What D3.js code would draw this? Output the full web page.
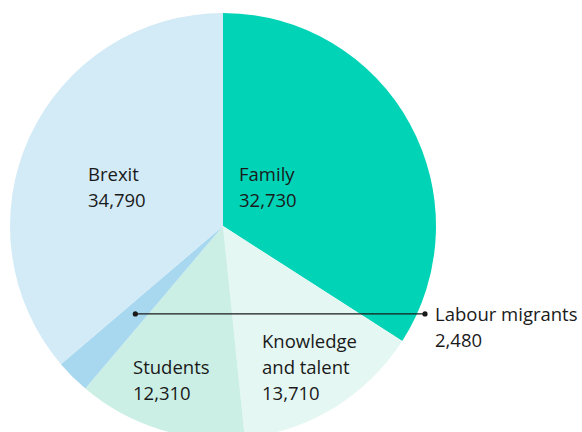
<!DOCTYPE html>
<html>
<head>
<meta charset="utf-8">
<script src="https://cdn.jsdelivr.net/npm/d3@7"></script>
<style>
  body { margin: 0; background: #fff; }
  svg { display: block; }
  text { font-family: "Open Sans", "Noto Sans", sans-serif; font-size: 18.5px; fill: #1a1a1a; }
</style>
</head>
<body>
<svg id="chart"></svg>
<script>
const categories = ['Family', 'Knowledge and talent', 'Students', 'Labour migrants', 'Brexit']
const values = [32730, 13710, 12310, 2480, 34790]
const valueLabels = ['32,730', '13,710', '12,310', '2,480', '34,790']
const colors = ['#00d3b6', '#e4f7f2', '#cbefe5', '#a8d8ef', '#d3ebf7']

const width = 582, height = 432
const cx = 223, cy = 226, radius = 213

const svg = d3.select('#chart').attr('width', width).attr('height', height)
const g = svg.append('g').attr('transform', `translate(${cx},${cy})`)

const data = categories.map((c, i) => ({name: c, value: values[i], label: valueLabels[i], color: colors[i]}))

const pie = d3.pie().value(d => d.value).sort(null)
const arc = d3.arc().innerRadius(0).outerRadius(radius)
const arcs = pie(data)

g.selectAll('path')
  .data(arcs)
  .join('path')
  .attr('d', arc)
  .attr('fill', d => d.data.color)

// label positions (offsets from center) and wrapped lines
const labelPos = {
  'Family': {x: 16, y: -45, lines: ['Family']},
  'Brexit': {x: -135, y: -45, lines: ['Brexit']},
  'Knowledge and talent': {x: 39, y: 122, lines: ['Knowledge', 'and talent']},
  'Students': {x: -90, y: 148, lines: ['Students']},
  'Labour migrants': {x: 212, y: 95, lines: ['Labour migrants']}
}
const lineH = 26

arcs.forEach(a => {
  const p = labelPos[a.data.name]
  const t = g.append('text').attr('x', p.x).attr('y', p.y)
  p.lines.concat([a.data.label]).forEach((s, i) => {
    t.append('tspan').attr('x', p.x).attr('dy', i === 0 ? 0 : lineH).text(s)
  })
})

// leader line for Labour migrants
const lab = arcs[3]
const mid = (lab.startAngle + lab.endAngle) / 2
const r0 = radius * 0.583
const px = Math.sin(mid) * r0
const py = -Math.cos(mid) * r0
const ex = 202
g.append('line')
  .attr('x1', px).attr('y1', py)
  .attr('x2', ex).attr('y2', py)
  .attr('stroke', '#1a1a1a').attr('stroke-width', 1.3)
g.selectAll('circle.dot')
  .data([[px, py], [ex, py]])
  .join('circle')
  .attr('class', 'dot')
  .attr('cx', d => d[0]).attr('cy', d => d[1])
  .attr('r', 2.6)
  .attr('fill', '#1a1a1a')
</script>
</body>
</html>
